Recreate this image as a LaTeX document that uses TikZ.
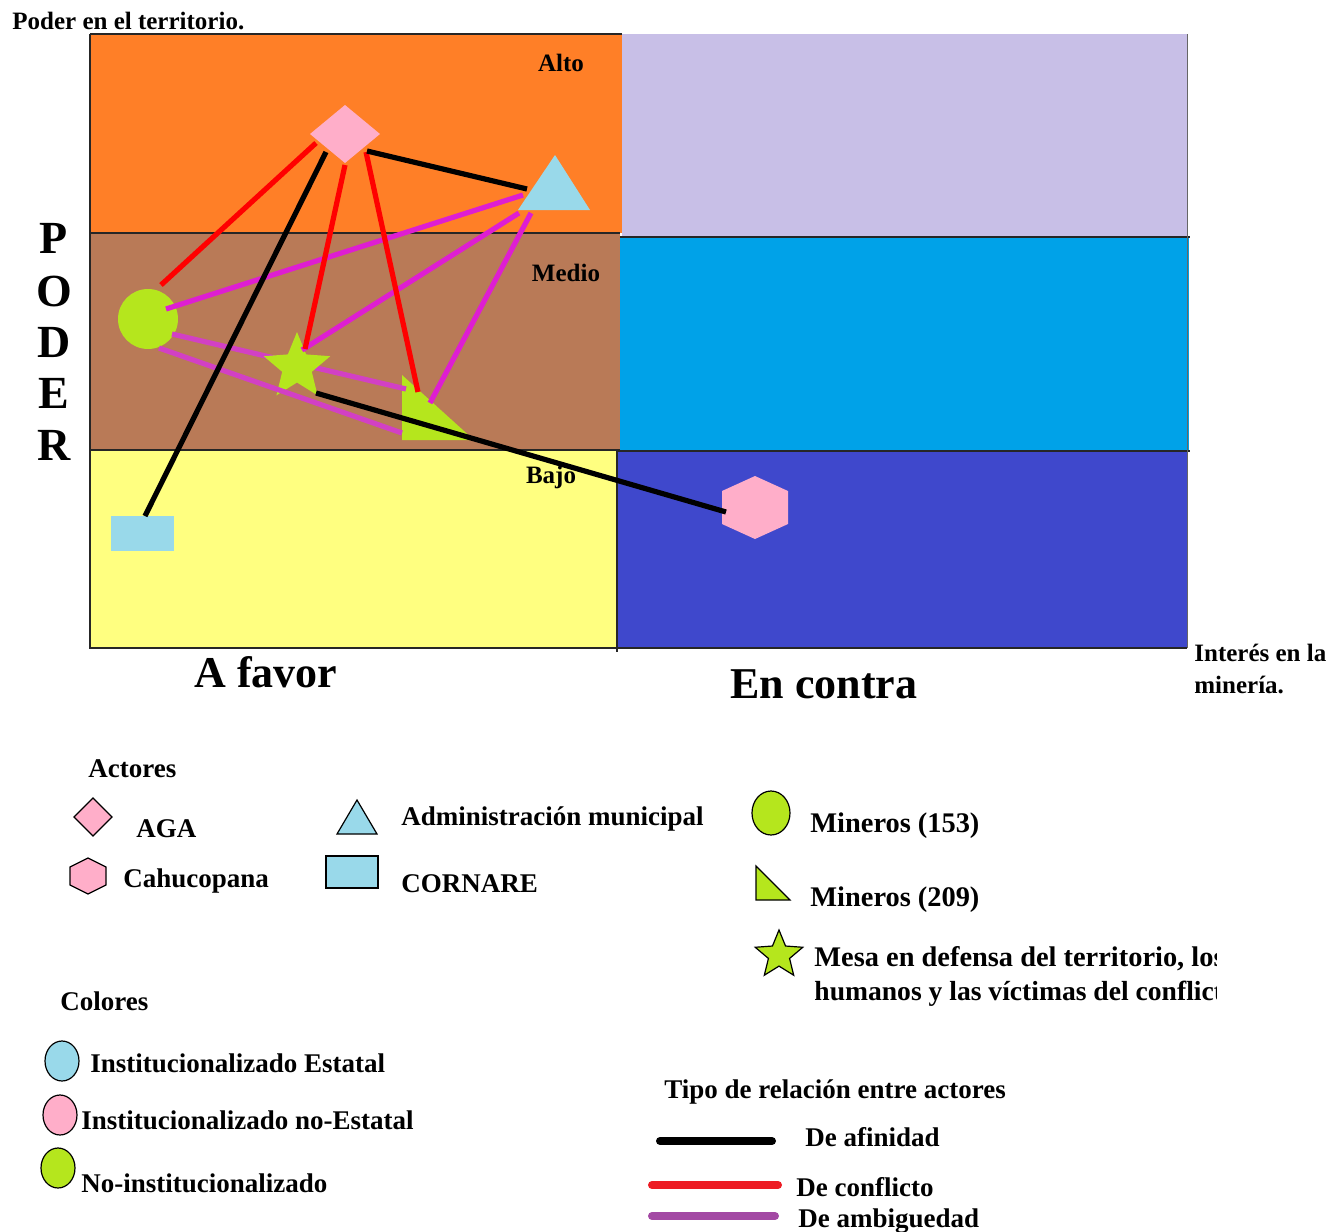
\documentclass[tikz,border=0pt]{standalone}
\usepackage{fontspec}
\setmainfont{Liberation Serif}
\usetikzlibrary{shapes.geometric}
\definecolor{cOrange}{HTML}{FF7F27}
\definecolor{cLav}{HTML}{C8BFE7}
\definecolor{cBrown}{HTML}{B97A57}
\definecolor{cBlue}{HTML}{00A2E8}
\definecolor{cYellow}{HTML}{FFFF80}
\definecolor{cIndigo}{HTML}{3F48CC}
\definecolor{cPink}{HTML}{FFAEC9}
\definecolor{cCyan}{HTML}{99D9EA}
\definecolor{cGreen}{HTML}{B5E61D}
\definecolor{cRed}{HTML}{FF0000}
\definecolor{cLegRed}{HTML}{ED1C24}
\definecolor{cMag}{RGB}{222,30,210}
\definecolor{cMagB}{RGB}{210,64,196}
\definecolor{cPurple}{HTML}{A349A4}
\tikzset{
  frame/.style={line width=0.7pt, draw=black!85},
  affin/.style={line width=2.6pt, draw=black},
  confl/.style={line width=2.6pt, draw=cRed},
  ambig/.style={line width=2.6pt, draw=cMag},
  ambigb/.style={line width=2.6pt, draw=cMagB},
  legshape/.style={draw=black, line width=0.6pt},
  lbl/.style={font=\bfseries\fontsize{13.5}{16}\selectfont, anchor=base west, inner sep=0pt},
  lblwide/.style={font=\bfseries\fontsize{14.2}{17}\selectfont, anchor=base west, inner sep=0pt},
  lblmid/.style={font=\bfseries\fontsize{13.8}{17}\selectfont, anchor=base west, inner sep=0pt},
  small/.style={font=\bfseries\fontsize{12.5}{15}\selectfont, inner sep=0pt},
  big/.style={font=\bfseries\fontsize{22}{26}\selectfont, inner sep=0pt},
  poder/.style={font=\bfseries\fontsize{23}{26}\selectfont, inner sep=0pt},
}
\begin{document}
\begin{tikzpicture}[x=0.5pt,y=-0.5pt]
\useasboundingbox (0,0) rectangle (1335,1232);
% background regions
\fill[cOrange] (90,34) rectangle (622,233);
\fill[cLav] (622,34) rectangle (1187,237);
\fill[cBrown] (90,233) rectangle (620,450);
\fill[cBlue] (620,237) rectangle (1189,451);
\fill[cYellow] (90,450) rectangle (617,648);
\fill[cIndigo] (617,451) rectangle (1187,648);
% frame lines
\draw[frame] (90,34) -- (622,34);
\draw[frame] (90,34) -- (90,648) -- (1187,648);
\draw[frame] (90,233) -- (620,233);
\draw[frame] (620,237) -- (1190,237);
\draw[frame] (90,450) -- (620,450);
\draw[frame] (617,451) -- (1190,451);
\draw[frame] (617,451) -- (617,652);
\draw[line width=0.5pt, draw=black!60] (1187,34) -- (1187,648);
% titles and labels
\node[small, anchor=base west] (title) at (12,29) {Poder en el territorio.};
\node[small] (alto) at (561,63) {Alto};
\node[small] (medio) at (566,273) {Medio};
\node[small] (bajo) at (551,477) {Bajo};
\node[poder] (pP) at (54,238) {P};
\node[poder] (pO) at (54,291) {O};
\node[poder] (pD) at (54,342) {D};
\node[poder] (pE) at (54,393) {E};
\node[poder] (pR) at (54,445) {R};
\node[big] (afavor) at (266,672) {A favor};
\node[big] (encontra) at (824,684) {En contra};
\node[small, anchor=base west] (int1) at (1194,661) {Interés en la};
\node[small, anchor=base west] (int2) at (1194,693) {minería.};
% actor shapes
\fill[cPink] (345,105) -- (380,134) -- (345,163) -- (310,134) -- cycle;
\fill[cCyan] (555,155) -- (590,210) -- (518,210) -- cycle;
\fill[cGreen] (148,319) circle (30);
\fill[cGreen] (402,375) -- (402,440) -- (474,440) -- cycle;
\fill[cCyan] (111,516) rectangle (174,551);
\fill[cPink] (755,476) -- (788,491) -- (788,524) -- (755,539) -- (722,524) -- (722,491) -- cycle;
% connector end points
\coordinate (aga1) at (367,151); \coordinate (adm1) at (527,189);
\coordinate (aga2) at (326,152); \coordinate (cor1) at (145,516);
\coordinate (mesa1) at (316,393); \coordinate (cah1) at (726,512);
\coordinate (aga3) at (316,143); \coordinate (min1) at (161,285);
\coordinate (aga4) at (345,165); \coordinate (mesa2) at (305,349);
\coordinate (aga5) at (366,152); \coordinate (mtwoa) at (418,392);
\coordinate (min2) at (166,309); \coordinate (adm2) at (523,195);
\coordinate (adm3) at (519,213); \coordinate (mesa3) at (302,350);
\coordinate (adm4) at (531,213); \coordinate (mtwob) at (430,403);
\coordinate (min3) at (172,334); \coordinate (mtwoc) at (406,389);
\coordinate (min4) at (159,348); \coordinate (mtwod) at (402,433);
% line under the star
\draw[ambigb] (min3) -- (mtwoc);
\node[star, star points=5, star point ratio=2.25, minimum size=35pt, inner sep=0pt, fill=cGreen] (mesa) at (297,367) {};
% other connectors
\draw[ambigb] (min4) -- (mtwod);
\draw[ambig] (min2) -- (adm2);
\draw[ambig] (adm3) -- (mesa3);
\draw[ambig] (adm4) -- (mtwob);
\draw[confl] (aga3) -- (min1);
\draw[confl] (aga4) -- (mesa2);
\draw[confl] (aga5) -- (mtwoa);
\draw[affin] (aga1) -- (adm1);
\draw[affin] (aga2) -- (cor1);
\draw[affin] (mesa1) -- (cah1);
% legend: actors
\node[lbl] (actores) at (88,777) {Actores};
\draw[legshape, fill=cPink] (93,798) -- (112,817) -- (93,836) -- (74,817) -- cycle;
\node[lbl] (aga) at (136,837) {AGA};
\draw[legshape, fill=cPink] (88,858) -- (106,867) -- (106,885) -- (88,894) -- (70,885) -- (70,867) -- cycle;
\node[lbl] (cah) at (123,887) {Cahucopana};
\draw[legshape, fill=cCyan] (357,800) -- (377,834) -- (337,834) -- cycle;
\node[lbl] (adm) at (401,825) {Administración municipal};
\draw[legshape, fill=cCyan] (326,856) rectangle (378,888);
\node[lbl] (cor) at (401,892) {CORNARE};
\draw[legshape, fill=cGreen] (771,813) ellipse [x radius=19, y radius=22];
\node[lblwide] (m153) at (810,832) {Mineros (153)};
\draw[legshape, fill=cGreen] (756,866) -- (756,900) -- (790,900) -- cycle;
\node[lblwide] (m209) at (810,906) {Mineros (209)};
\node[star, star points=5, star point ratio=2.25, minimum size=25pt, inner sep=0pt, legshape, fill=cGreen] (legstar) at (779,955) {};
\begin{scope}
\clip (800,920) rectangle (1216,1015);
\node[lblwide] (mesa1t) at (814,966) {Mesa en defensa del territorio, los};
\node[lblmid] (mesa2t) at (814,1000) {humanos y las víctimas del conflicto};
\end{scope}
% legend: colours
\node[lbl] (colores) at (60,1010) {Colores};
\draw[legshape, fill=cCyan] (62,1061) ellipse [x radius=17, y radius=20];
\node[lbl] (ie) at (90,1072) {Institucionalizado Estatal};
\draw[legshape, fill=cPink] (60,1115) ellipse [x radius=17, y radius=20];
\node[lbl] (ine) at (81,1129) {Institucionalizado no-Estatal};
\draw[legshape, fill=cGreen] (58,1168) ellipse [x radius=17, y radius=20];
\node[lbl] (ni) at (81,1192) {No-institucionalizado};
% legend: relations
\node[lbl] (tipo) at (664,1098) {Tipo de relación entre actores};
\coordinate (la1) at (660,1141); \coordinate (la2) at (772,1141);
\coordinate (lc1) at (652,1185); \coordinate (lc2) at (778,1185);
\coordinate (lb1) at (652,1216); \coordinate (lb2) at (775,1216);
\draw[line width=4pt, line cap=round, draw=black] (la1) -- (la2);
\draw[line width=4pt, line cap=round, draw=cLegRed] (lc1) -- (lc2);
\draw[line width=4pt, line cap=round, draw=cPurple] (lb1) -- (lb2);
\node[lbl] (afin) at (805,1146) {De afinidad};
\node[lbl] (conf) at (796,1196) {De conflicto};
\node[lbl] (ambg) at (798,1227) {De ambiguedad};
\end{tikzpicture}
\end{document}
